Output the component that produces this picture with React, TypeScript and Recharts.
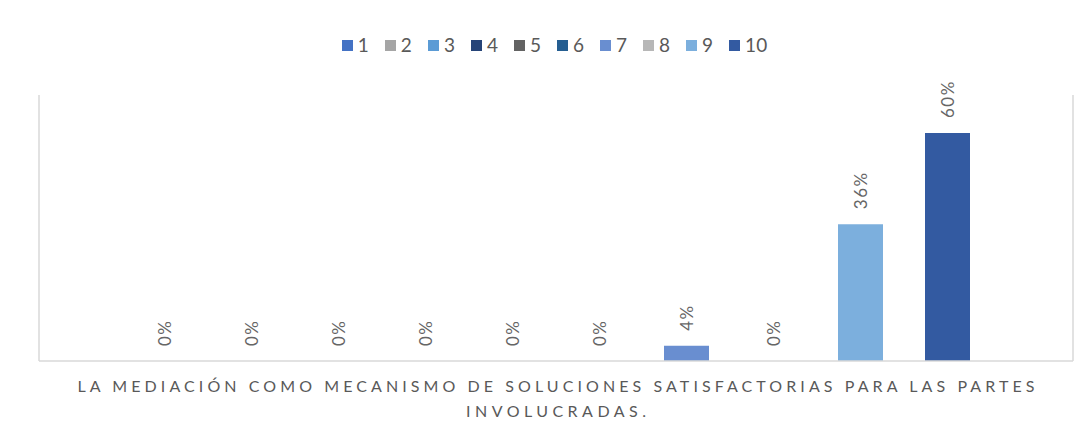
import { BarChart, Bar, XAxis, YAxis, Legend, LabelList } from "recharts";

// categoría única y las diez respuestas (escala 1..10)
const categoria = "LA MEDIACIÓN COMO MECANISMO DE SOLUCIONES SATISFACTORIAS PARA LAS PARTES INVOLUCRADAS.";
const tituloLineas = [
  "LA MEDIACIÓN COMO MECANISMO DE SOLUCIONES SATISFACTORIAS PARA LAS PARTES",
  "INVOLUCRADAS.",
];
const series = ["1", "2", "3", "4", "5", "6", "7", "8", "9", "10"];
const valores = [0, 0, 0, 0, 0, 0, 0.04, 0, 0.36, 0.6];
const colores = [
  "#4472C4",
  "#A5A5A5",
  "#5B9BD5",
  "#264478",
  "#636363",
  "#255E91",
  "#698ED0",
  "#B7B7B7",
  "#7CAFDD",
  "#335AA1",
];

const FONT = "Lato, 'Noto Sans', sans-serif";
const GRIS = "#595959";
const LINEA = "#D9D9D9";

const row: Record<string, string | number> = { cat: categoria };
series.forEach((s, i) => {
  row["s" + s] = valores[i];
});
const data = [row];

function pct(v: number) {
  return `${Math.round(v * 100)}%`;
}

function etiquetaBarra(props: any) {
  const { x, y, width, value } = props;
  const cx = Number(x) + Number(width) / 2;
  const ty = Number(y) - 15;
  return (
    <text
      x={cx}
      y={ty}
      transform={`rotate(-90, ${cx}, ${ty})`}
      textAnchor="start"
      dominantBaseline="central"
      fill="#666666"
      fontSize={17}
      letterSpacing={1.5}
      fontFamily={FONT}
    >
      {pct(Number(value))}
    </text>
  );
}

function TituloEje(props: any) {
  const vb = props.viewBox || {};
  const cx = vb.x + vb.width / 2;
  return (
    <g>
      <text
        x={cx}
        y={vb.y + 31}
        textAnchor="middle"
        fill={GRIS}
        fontSize={16}
        fontFamily={FONT}
        textLength={957}
        lengthAdjust="spacing"
      >
        {tituloLineas[0]}
      </text>
      <text
        x={cx}
        y={vb.y + 56}
        textAnchor="middle"
        fill={GRIS}
        fontSize={16}
        fontFamily={FONT}
        textLength={180}
        lengthAdjust="spacing"
      >
        {tituloLineas[1]}
      </text>
    </g>
  );
}

function Leyenda() {
  return (
    <div
      style={{
        display: "flex",
        justifyContent: "center",
        paddingLeft: 15,
        height: 20,
        lineHeight: "20px",
        fontFamily: FONT,
        fontSize: 19,
        color: GRIS,
      }}
    >
      {series.map((s, i) => (
        <div
          key={s}
          style={{
            display: "flex",
            alignItems: "center",
            marginRight: i === series.length - 1 ? 0 : 16,
          }}
        >
          <span
            style={{
              display: "inline-block",
              width: 11,
              height: 11,
              background: colores[i],
              marginRight: 5,
            }}
          />
          <span>{s}</span>
        </div>
      ))}
    </div>
  );
}

export default function App() {
  return (
    <div style={{ width: 1078, height: 427, background: "#fff", fontFamily: FONT }}>
      <BarChart
        width={1078}
        height={427}
        data={data}
        margin={{ top: 87, right: 12, bottom: 0, left: 30 }}
        barSize={45}
        barGap={42}
      >
        <XAxis
          dataKey="cat"
          height={74}
          tick={false}
          tickLine={false}
          axisLine={{ stroke: LINEA, strokeWidth: 1.5 }}
          label={<TituloEje />}
        />
        <YAxis
          yAxisId="l"
          width={1}
          domain={[0, 0.7]}
          tick={false}
          tickLine={false}
          axisLine={{ stroke: LINEA, strokeWidth: 1.5 }}
        />
        <YAxis
          yAxisId="r"
          orientation="right"
          width={1}
          domain={[0, 0.7]}
          tick={false}
          tickLine={false}
          axisLine={{ stroke: LINEA, strokeWidth: 1.5 }}
        />
        <Legend
          verticalAlign="middle"
          align="center"
          content={<Leyenda />}
          wrapperStyle={{ top: 27, left: 0, width: 1078 }}
        />
        {series.map((s, i) => (
          <Bar
            key={s}
            yAxisId="l"
            dataKey={"s" + s}
            name={s}
            fill={colores[i]}
            minPointSize={0.01}
            isAnimationActive={false}
          >
            <LabelList dataKey={"s" + s} content={etiquetaBarra} />
          </Bar>
        ))}
      </BarChart>
    </div>
  );
}
